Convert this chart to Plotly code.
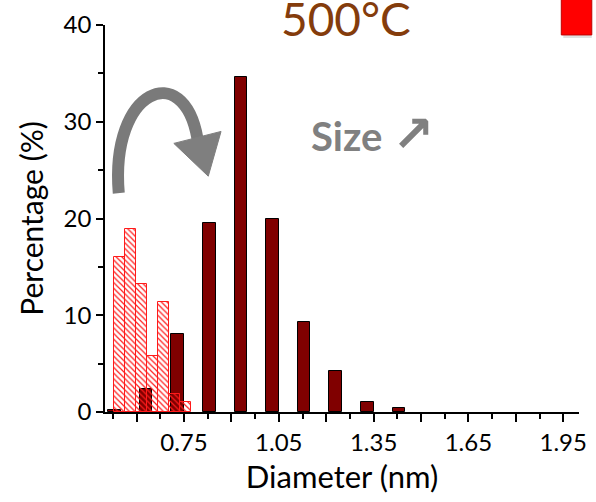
import plotly.graph_objects as go

# Size distribution after annealing at 500 °C (dark bars) vs. initial (hatched)
diam_500 = [0.53, 0.63, 0.73, 0.83, 0.93, 1.03, 1.13, 1.23, 1.33, 1.43]
pct_500 = [0.2, 2.4, 8.1, 19.5, 34.6, 19.9, 9.3, 4.2, 1.0, 0.4]

diam_init = [0.545, 0.58, 0.615, 0.65, 0.685, 0.72, 0.755]
pct_init = [16.0, 18.9, 13.2, 5.75, 11.4, 1.9, 1.0]

x_major = [0.6, 0.75, 0.9, 1.05, 1.2, 1.35, 1.5, 1.65, 1.8, 1.95]
x_labels = ["", "0.75", "", "1.05", "", "1.35", "", "1.65", "", "1.95"]
x_minor = [0.525, 0.675, 0.825, 0.975, 1.125, 1.275, 1.425, 1.575, 1.725, 1.875]
y_major = [0, 10, 20, 30, 40]
y_minor = [5, 15, 25, 35]

FONT = "Lato"
W_FIG, H_FIG = 596, 502
L, T, R, B = 105, 23, 9, 90
PW, PH = W_FIG - L - R, H_FIG - T - B


def fx(p):
    return (p - L) / PW


def fy(p):
    return (T + PH - p) / PH


fig = go.Figure()
fig.add_trace(go.Bar(
    x=diam_500, y=pct_500, width=0.04,
    marker=dict(color="#800000", line=dict(color="black", width=1)),
    showlegend=False,
))
fig.add_trace(go.Bar(
    x=diam_init, y=pct_init, width=0.034,
    marker=dict(color="#ff1a1a", line=dict(color="#ff1a1a", width=1),
                pattern=dict(shape="\\", fillmode="replace", size=4, solidity=0.3)),
    showlegend=False,
))

# curved "growth" arrow
arc = "M {},{} C {},{} {},{} {},{}".format(
    fx(119), fy(192), fx(110), fy(87), fx(185), fy(57), fx(199), fy(137))
head = "M {},{} L {},{} L {},{} Z".format(
    fx(175), fy(142), fx(223), fy(130), fx(210), fy(175))
shapes = [
    dict(type="path", path=arc, xref="paper", yref="paper",
         line=dict(color="#7a7a7a", width=12), fillcolor="rgba(0,0,0,0)"),
    dict(type="path", path=head, xref="paper", yref="paper",
         line=dict(color="#7f7f7f", width=1), fillcolor="#7f7f7f"),
    dict(type="rect", xref="paper", yref="paper",
         x0=fx(571), x1=fx(600), y0=fy(36), y1=fy(-5),
         line=dict(width=0), fillcolor="rgba(0,0,0,0.12)"),
    dict(type="rect", xref="paper", yref="paper",
         x0=fx(569), x1=fx(600), y0=fy(33), y1=fy(-5),
         line=dict(color="#c00000", width=1), fillcolor="#ff0000"),
]

annotations = [
    dict(text="500°C", x=fx(350), y=fy(16), xref="paper", yref="paper",
         xanchor="center", yanchor="middle", showarrow=False,
         font=dict(family=FONT, size=46, color="#843c0c")),
    dict(text="<b>Size <span style='font-family:DejaVu Sans;font-size:50px'>↗</span></b>",
         x=fx(377), y=fy(133), xref="paper", yref="paper",
         xanchor="center", yanchor="middle", showarrow=False,
         font=dict(family=FONT, size=40, color="#808080")),
]

fig.update_layout(
    width=W_FIG, height=H_FIG,
    margin=dict(l=L, r=R, t=T, b=B),
    plot_bgcolor="white", paper_bgcolor="white",
    barmode="overlay", bargap=0,
    font=dict(family=FONT, color="black"),
    shapes=shapes, annotations=annotations,
    xaxis=dict(
        range=[0.5, 2.0], showgrid=False, zeroline=False,
        showline=True, linecolor="black", linewidth=1.5,
        ticks="outside", ticklen=8, tickwidth=1.5, tickcolor="black",
        tickmode="array", tickvals=x_major, ticktext=x_labels,
        tickfont=dict(size=24),
        minor=dict(tickmode="array", tickvals=x_minor, ticks="outside",
                   ticklen=5, tickwidth=1.5, tickcolor="black"),
        title=dict(text="Diameter (nm)", font=dict(size=31), standoff=12),
    ),
    yaxis=dict(
        range=[0, 40], showgrid=False, zeroline=False,
        showline=True, linecolor="black", linewidth=1.5,
        ticks="outside", ticklen=7, tickwidth=1.5, tickcolor="black",
        tickmode="array", tickvals=y_major,
        tickfont=dict(size=24),
        minor=dict(tickmode="array", tickvals=y_minor, ticks="outside",
                   ticklen=5, tickwidth=1.5, tickcolor="black"),
        title=dict(text="Percentage (%)", font=dict(size=30), standoff=11),
    ),
)

fig.write_html("out.html")
